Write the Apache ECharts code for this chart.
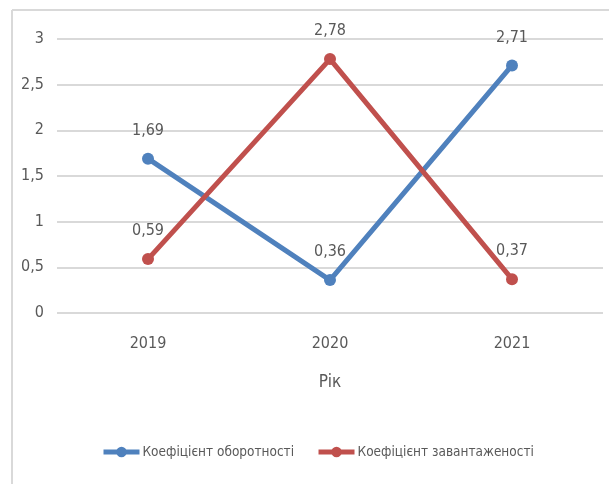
<!DOCTYPE html>
<html>
<head>
<meta charset="utf-8">
<script src="https://cdn.jsdelivr.net/npm/echarts@6/dist/echarts.min.js"></script>
<style>
  html, body { margin: 0; padding: 0; background: #fff; }
  #chart { width: 609px; height: 484px; }
</style>
</head>
<body>
<div id="chart"></div>
<script>
// data
const years = ['2019', '2020', '2021'];
const turnover = [1.69, 0.36, 2.71];
const load = [0.59, 2.78, 0.37];
const seriesNames = ['Коефіцієнт оборотності', 'Коефіцієнт завантаженості'];
const colors = ['#4F81BD', '#C0504D'];

const FONT = '"Liberation Sans Narrow", "DejaVu Sans Condensed", sans-serif';
const TEXT = '#595959';

const comma = v => String(v).replace('.', ',');

const chart = echarts.init(document.getElementById('chart'));

const makeSeries = (name, data, color) => ({
  name,
  type: 'line',
  data,
  color,
  symbol: 'circle',
  symbolSize: 12,
  lineStyle: { width: 5, color },
  itemStyle: { color },
  label: {
    show: true,
    position: 'top',
    distance: 14,
    color: TEXT,
    fontFamily: FONT,
    fontSize: 16,
    formatter: p => comma(p.value)
  },
  emphasis: { disabled: true }
});

chart.setOption({
  animation: false,
  textStyle: { fontFamily: FONT },
  grid: { left: 57, right: 6, top: 39, bottom: 171 },
  graphic: [
    { type: 'line', shape: { x1: 12, y1: 10, x2: 609, y2: 10 }, style: { stroke: '#d9d9d9', lineWidth: 2 } },
    { type: 'line', shape: { x1: 12, y1: 10, x2: 12, y2: 484 }, style: { stroke: '#d9d9d9', lineWidth: 2 } }
  ],
  legend: {
    bottom: 20,
    left: 96,
    itemWidth: 36,
    itemHeight: 13,
    itemGap: 22,
    lineStyle: { width: 5 },
    textStyle: { color: TEXT, fontFamily: FONT, fontSize: 13.5, padding: [0, 0, 0, -2] },
    data: seriesNames
  },
  xAxis: {
    type: 'category',
    data: years,
    axisLine: { show: false },
    axisTick: { show: false },
    axisLabel: { color: TEXT, fontFamily: FONT, fontSize: 16, margin: 23 },
    name: 'Рік',
    nameLocation: 'middle',
    nameGap: 61,
    nameTextStyle: { color: TEXT, fontFamily: FONT, fontSize: 17 }
  },
  yAxis: {
    type: 'value',
    min: 0,
    max: 3,
    interval: 0.5,
    axisLine: { show: false },
    axisTick: { show: false },
    axisLabel: { color: TEXT, fontFamily: FONT, fontSize: 16, margin: 13, formatter: comma },
    splitLine: { lineStyle: { color: '#d9d9d9', width: 2 } }
  },
  series: [
    makeSeries(seriesNames[0], turnover, colors[0]),
    makeSeries(seriesNames[1], load, colors[1])
  ]
});
</script>
</body>
</html>
